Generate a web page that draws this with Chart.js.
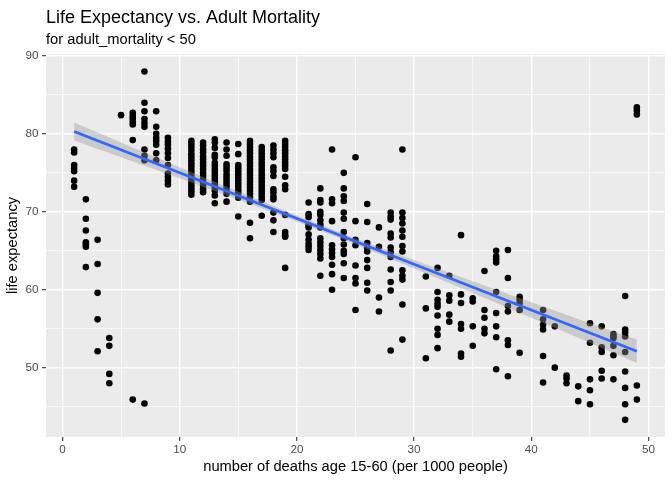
<!DOCTYPE html>
<html>
<head>
<meta charset="utf-8">
<script src="https://cdn.jsdelivr.net/npm/chart.js@4.4.1/dist/chart.umd.min.js"></script>
<style>
  html, body { margin: 0; padding: 0; background: #ffffff; }
  #wrap { width: 672px; height: 480px; }
</style>
</head>
<body>
<div id="wrap"><canvas id="c" width="672" height="480"></canvas></div>
<script>
// ---- data ----
const titleText = "Life Expectancy vs. Adult Mortality";
const subtitleText = "for adult_mortality < 50";
const xTitle = "number of deaths age 15-60 (per 1000 people)";
const yTitle = "life expectancy";

const xTickValues = [0, 5, 10, 15, 20, 25, 30, 35, 40, 45, 50];
const yTickValues = [45, 50, 55, 60, 65, 70, 75, 80, 85, 90];

// adult mortality values (x) that have points
const columnX = [1, 2, 3, 4, 5, 6, 7, 8, 9, 11, 12, 13, 14, 15, 16, 17, 18, 19,
  21, 22, 23, 24, 25, 26, 27, 28, 29, 31, 32, 33, 34, 35, 36, 37, 38, 39,
  41, 42, 43, 44, 45, 46, 47, 48, 49];

// life expectancy values per column
const columnLife = [
  [78.0, 77.6, 76.0, 75.6, 75.2, 74.0, 73.2],
  [71.6, 69.1, 67.6, 66.1, 65.8, 65.5, 62.9],
  [66.4, 63.3, 59.6, 56.2, 52.1],
  [53.8, 52.8, 49.2, 48.0],
  [82.4],
  [82.7, 82.3, 82.0, 81.6, 81.2, 79.2, 45.9],
  [88.0, 84.0, 82.9, 81.9, 81.4, 80.9, 78.0, 77.2, 76.6, 45.4],
  [82.9, 80.9, 80.0, 79.5, 79.1, 78.6, 77.5, 76.6],
  [79.5, 79.0, 78.6, 78.1, 77.5, 76.9, 76.0, 74.9, 74.5, 74.0, 73.5],
  [79.1, 78.7, 78.3, 77.9, 77.4, 77.0, 76.6, 76.2, 75.8, 75.4, 75.0, 74.6, 74.2, 73.8, 73.4, 73.0, 72.6, 72.2],
  [78.9, 78.5, 78.0, 77.6, 77.1, 76.7, 76.3, 75.9, 75.5, 75.0, 74.6, 74.2, 73.8, 73.3, 72.9, 72.5],
  [79.3, 78.9, 78.2, 77.3, 77.0, 76.3, 75.9, 75.5, 75.1, 74.7, 74.3, 73.9, 73.5, 73.1, 72.7, 72.1, 71.1],
  [78.9, 78.0, 77.2, 76.1, 75.7, 75.3, 74.8, 74.4, 74.0, 73.6, 73.2, 72.8, 72.3, 71.3],
  [78.7, 77.4, 76.0, 75.6, 75.2, 74.8, 74.4, 74.0, 73.6, 73.2, 72.8, 72.4, 71.8, 69.4],
  [79.1, 78.7, 78.3, 77.9, 77.5, 77.1, 76.7, 76.3, 75.9, 75.5, 75.1, 74.7, 74.3, 73.9, 73.5, 73.1, 72.7, 72.3, 71.9, 71.3, 68.6, 66.6],
  [78.3, 77.9, 77.5, 77.1, 76.7, 76.3, 75.9, 75.5, 75.1, 74.7, 74.3, 73.9, 73.5, 73.1, 72.7, 72.3, 71.9, 71.5, 69.5],
  [78.5, 78.0, 77.5, 77.0, 75.7, 75.2, 74.6, 72.9, 72.5, 72.0, 71.6, 69.9, 68.9, 67.4],
  [79.1, 78.7, 78.3, 77.9, 77.5, 77.1, 76.7, 76.3, 75.9, 75.5, 74.5, 73.4, 72.9, 69.6, 67.4, 67.0, 66.8, 62.8],
  [71.2, 69.7, 69.3, 68.3, 68.0, 67.1, 66.4, 65.9, 65.5, 65.1],
  [73.0, 71.5, 71.2, 70.0, 69.6, 68.9, 68.4, 68.0, 66.6, 66.1, 65.6, 65.1, 64.6, 64.0, 61.8],
  [78.0, 71.6, 71.1, 68.8, 65.7, 65.2, 64.7, 64.2, 63.2, 62.0, 60.0],
  [75.0, 73.0, 72.0, 71.4, 69.9, 69.1, 67.4, 66.6, 65.8, 65.0, 64.6, 63.4, 61.5],
  [77.0, 68.8, 66.4, 65.7, 63.1, 61.5, 60.8, 57.4],
  [71.0, 68.7, 66.0, 65.4, 64.9, 63.8, 62.8, 60.9, 59.9],
  [68.0, 65.5, 59.0, 57.2],
  [69.9, 69.4, 69.0, 67.2, 66.7, 65.4, 64.8, 64.2, 62.6, 61.0, 59.9, 52.2],
  [78.0, 69.9, 69.2, 68.5, 67.6, 66.8, 65.6, 64.9, 62.5, 61.8, 61.3, 58.1, 53.6],
  [61.7, 57.6, 51.2],
  [62.8, 59.7, 58.7, 58.2, 57.8, 56.7, 55.0, 54.2, 52.5],
  [61.8, 59.3, 58.6, 56.8, 55.9],
  [67.0, 59.4, 58.3, 55.6, 55.0, 51.8, 51.4],
  [58.9, 58.5, 55.3, 52.8],
  [62.4, 57.4, 56.4, 55.0, 54.4],
  [65.0, 64.3, 63.9, 63.5, 59.7, 57.0, 55.3, 53.9, 49.8],
  [65.1, 61.5, 57.9, 57.2, 53.5, 52.9, 48.9],
  [59.1, 58.7, 58.3, 57.4, 51.9],
  [57.4, 56.2, 55.5, 54.9, 51.5, 48.1],
  [55.3, 50.0],
  [49.0, 48.6, 48.0],
  [47.6, 45.7],
  [55.7, 53.2, 48.5, 47.1, 45.3],
  [55.3, 52.6, 52.0, 49.6, 48.6],
  [54.3, 54.0, 53.8, 52.8, 51.6, 48.5],
  [59.2, 54.9, 54.5, 54.0, 52.0, 49.5, 47.4, 45.3, 43.3],
  [83.4, 83.0, 82.5, 47.7, 45.9]
];

// fitted line and its confidence band
const fitX = [1, 49];
const fitY = [80.3, 52.1];
const bandX = [1, 5, 10, 15, 20, 25, 30, 35, 40, 45, 49];
const bandUpper = [81.45, 78.9, 75.73, 72.59, 69.51, 66.58, 63.81, 61.09, 58.39, 55.7, 53.6];
const bandLower = [79.15, 77.0, 74.29, 71.57, 68.77, 65.82, 62.71, 59.57, 56.39, 53.2, 50.6];

// ---- build chart ----
const pointData = columnX.flatMap((x, i) => columnLife[i].map(y => ({ x: x, y: y })));
const fitData = fitX.map((x, i) => ({ x: x, y: fitY[i] }));
const upperData = bandX.map((x, i) => ({ x: x, y: bandUpper[i] }));
const lowerData = bandX.map((x, i) => ({ x: x, y: bandLower[i] }));

const FONT = '"Liberation Sans", Arial, Helvetica, sans-serif';

const panelPlugin = {
  id: 'panel',
  beforeDraw(chart) {
    const { ctx, chartArea: a } = chart;
    ctx.save();
    ctx.fillStyle = '#EBEBEB';
    ctx.fillRect(a.left, a.top, a.right - a.left, a.bottom - a.top);
    ctx.restore();
  },
  afterDraw(chart) {
    const { ctx, chartArea: a } = chart;
    ctx.save();
    ctx.fillStyle = '#000000';
    ctx.textAlign = 'left';
    ctx.textBaseline = 'alphabetic';
    ctx.font = '18px ' + FONT;
    ctx.fillText(titleText, a.left, 22.5);
    ctx.font = '14.7px ' + FONT;
    ctx.fillText(subtitleText, a.left, 44);
    ctx.restore();
  }
};

function gridOpts() {
  return {
    color: '#FFFFFF',
    lineWidth: c => (c.tick && c.tick.value % 10 === 0) ? 1.4 : 0.7,
    drawTicks: true,
    tickLength: 4,
    tickWidth: 1.1,
    tickColor: c => (c.tick && c.tick.value % 10 === 0) ? '#333333' : 'rgba(0,0,0,0)'
  };
}

new Chart(document.getElementById('c'), {
  type: 'scatter',
  data: {
    datasets: [
      {
        label: 'fit',
        data: fitData,
        showLine: true,
        borderColor: '#3366FF',
        borderWidth: 2.8,
        pointRadius: 0,
        fill: false
      },
      {
        label: 'lower',
        data: lowerData,
        showLine: true,
        borderWidth: 0,
        borderColor: 'rgba(0,0,0,0)',
        pointRadius: 0,
        fill: false
      },
      {
        label: 'upper',
        data: upperData,
        showLine: true,
        borderWidth: 0,
        borderColor: 'rgba(0,0,0,0)',
        backgroundColor: 'rgba(153,153,153,0.4)',
        pointRadius: 0,
        fill: 1
      },
      {
        label: 'points',
        data: pointData,
        backgroundColor: '#000000',
        borderWidth: 0,
        pointRadius: 3.3,
        pointHoverRadius: 3.3
      }
    ]
  },
  options: {
    responsive: false,
    animation: false,
    devicePixelRatio: 1,
    layout: { padding: { top: 54, right: 7, bottom: 0, left: 0 } },
    plugins: {
      legend: { display: false },
      tooltip: { enabled: false },
      title: { display: false }
    },
    scales: {
      x: {
        type: 'linear',
        min: -1.4,
        max: 51.4,
        afterBuildTicks: s => { s.ticks = xTickValues.map(v => ({ value: v })); },
        afterFit: s => { s.height = 43; },
        border: { display: false },
        grid: gridOpts(),
        ticks: {
          color: '#4D4D4D',
          font: { family: FONT, size: 11.7 },
          padding: 2,
          maxRotation: 0,
          autoSkip: false,
          callback: v => (v % 10 === 0 ? String(v) : '')
        },
        title: {
          display: true,
          text: xTitle,
          color: '#000000',
          font: { family: FONT, size: 14.7 },
          padding: { top: 0, bottom: 4.5 }
        }
      },
      y: {
        type: 'linear',
        min: 41.1,
        max: 90.25,
        afterBuildTicks: s => { s.ticks = yTickValues.map(v => ({ value: v })); },
        afterFit: s => { s.width = 46; },
        border: { display: false },
        grid: gridOpts(),
        ticks: {
          color: '#4D4D4D',
          font: { family: FONT, size: 11.7 },
          padding: 3.5,
          autoSkip: false,
          callback: v => (v % 10 === 0 ? String(v) : '')
        },
        title: {
          display: true,
          text: yTitle,
          color: '#000000',
          font: { family: FONT, size: 14.7 },
          padding: { top: 4.5, bottom: 0 }
        }
      }
    }
  },
  plugins: [panelPlugin]
});
</script>
</body>
</html>
